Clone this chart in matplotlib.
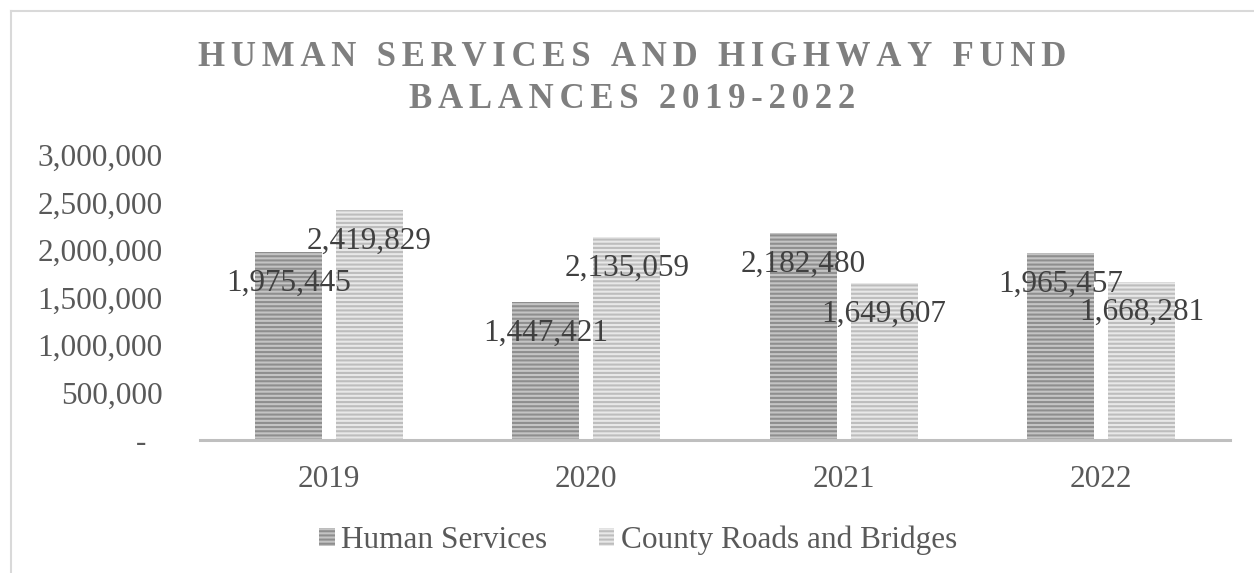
import numpy as np
import matplotlib.pyplot as plt
from matplotlib.lines import Line2D
from matplotlib.patches import Patch
from matplotlib.ticker import FuncFormatter

years = ['2019', '2020', '2021', '2022']
human_services = [1975445, 1447421, 2182480, 1965457]
roads_bridges = [2419829, 2135059, 1649607, 1668281]
series_names = ['Human Services', 'County Roads and Bridges']
title_lines = ['HUMAN SERVICES AND HIGHWAY FUND', 'BALANCES 2019-2022']

plt.rcParams['font.family'] = ['Liberation Serif', 'DejaVu Serif']
plt.rcParams['hatch.linewidth'] = 1.5

W, H = 1254, 573
fig = plt.figure(figsize=(W / 100, H / 100), dpi=100)
ax = fig.add_axes([200 / W, 1 - 440 / H, 1030 / W, 285 / H])

x = np.arange(len(years))
bw = 0.26
off = 0.157
b1 = ax.bar(x - off, human_services, bw, color='#c4c4c4', edgecolor='#8e8e8e',
            hatch='----', linewidth=0)
b2 = ax.bar(x + off, roads_bridges, bw, color='#e8e8e8', edgecolor='#bdbdbd',
            hatch='----', linewidth=0)

# value labels sit just inside the top of each bar
for bars, vals in ((b1, human_services), (b2, roads_bridges)):
    for rect, v in zip(bars, vals):
        ax.annotate(f'{v:,}', (rect.get_x() + rect.get_width() / 2, v),
                    xytext=(0, -22.5), textcoords='offset points',
                    ha='center', va='center', fontsize=22.5, color='#404040')

ax.set_xlim(-0.5, 3.5)
ax.set_ylim(0, 3000000)
ax.set_yticks(np.arange(0, 3000001, 500000))
ax.yaxis.set_major_formatter(FuncFormatter(
    lambda v, p: f'{int(v):,}' if v else '-\u2007'))
ax.set_xticks(x)
ax.set_xticklabels(years)
ax.tick_params(axis='both', length=0, labelsize=22.5, labelcolor='#595959')
ax.tick_params(axis='y', pad=27)
ax.tick_params(axis='x', pad=18)
for s in ('top', 'right', 'left'):
    ax.spines[s].set_visible(False)
ax.spines['bottom'].set_color('#bfbfbf')
ax.spines['bottom'].set_linewidth(2.2)

# spaced-out title: two hair spaces between the letters
ts = '\u200a\u200a'
for i, line in enumerate(title_lines):
    fig.text(632 / W, 1 - (57 + 42 * i) / H, ts.join(line), ha='center', va='center',
             fontsize=25, fontweight='bold', color='#7f7f7f')

handles = [Patch(facecolor='#c4c4c4', edgecolor='#8e8e8e', hatch='----', linewidth=0),
           Patch(facecolor='#e8e8e8', edgecolor='#bdbdbd', hatch='----', linewidth=0)]
fig.legend(handles, series_names, loc='center', bbox_to_anchor=(638 / W, 1 - 540 / H),
           ncol=2, frameon=False, fontsize=22.5, labelcolor='#595959',
           handlelength=0.5, handleheight=0.5, handletextpad=0.2, columnspacing=1.65)

# chart-area border, clipped by the image on the right and bottom
fig.add_artist(Line2D([11 / W, 11 / W], [0, 1 - 11 / H], color='#d9d9d9', lw=1.5))
fig.add_artist(Line2D([11 / W, 1], [1 - 11 / H, 1 - 11 / H], color='#d9d9d9', lw=1.5))

fig.savefig('out.png', dpi=100, facecolor='white')
